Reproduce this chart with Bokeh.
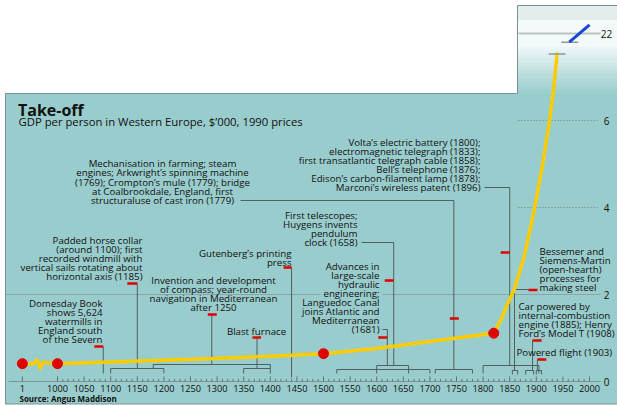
from bokeh.plotting import figure
from bokeh.models import Range1d
from bokeh.core.properties import value
from bokeh.embed import file_html
from bokeh.resources import INLINE

# ---------------- data ----------------
gdp_years = [1, 1000, 1100, 1200, 1300, 1400, 1500, 1600, 1700, 1820,
             1836, 1846, 1858, 1877, 1892, 1897, 1912, 1925, 1933, 1939]
gdp_values = [0.41, 0.41, 0.45, 0.49, 0.53, 0.58, 0.64, 0.76, 0.92, 1.11,
              1.48, 1.79, 2.09, 2.86, 3.70, 4.00, 5.00, 6.00, 6.77, 7.53]
dot_years = [1, 1000, 1500, 1820]
dot_values = [0.41, 0.41, 0.64, 1.11]
recent_years = [1962, 2000]
recent_values = [21.8, 22.2]

year_ticks = [1, 1000, 1050, 1100, 1150, 1200, 1250, 1300, 1350, 1400, 1450,
              1500, 1550, 1600, 1650, 1700, 1750, 1800, 1850, 1900, 1950, 2000]
year_tick_labels = ["1", "1000", "1050", "1100", "1150", "1200", "1250", "1300",
                    "1350", "1400", "1450", "1500", "1550", "1600", "1650", "1700",
                    "1750", "1800", "1850", "1900", "1950", "2000"]
gdp_ticks = [0, 2, 4, 6, 22]
gdp_tick_labels = ["0", "2", "4", "6", "22"]

# event years where leader lines meet the time axis
event_years = {"domesday": 1086, "collar": 1150, "compass": 1290, "blast": 1375,
               "gutenberg": 1440, "languedoc": 1620, "telescope": 1632,
               "mechanisation": 1745, "volta": 1850, "bessemer": 1859,
               "car": 1893, "flight": 1902}
# periods bracketed under the curve: (start, end)
bracket_periods = [(1100, 1200), (1180, 1400), (1350, 1400), (1525, 1700),
                   (1600, 1660), (1710, 1780), (1800, 1905), (1855, 1865),
                   (1880, 1895), (1900, 1910)]

# ---------------- layout helpers ----------------
W, H = 617, 405
REF_L, REF_R, REF_T, REF_B = 0, 617, 0, 405
PX_YR, X1000 = 0.532, 57.0
PX_UNIT, Y0 = 43.5, 381.0
BREAK_SHIFT = 14.0


def xr(px):
    return 1000 + (px - X1000) / PX_YR


def yr(py):
    return (Y0 - py) / PX_UNIT


def dxr(px):
    return px / PX_YR


def dyr(px):
    return px / PX_UNIT


def pos(year):
    return year if year >= 1000 else 1000 - 66.0 * (1000 - year) / 999.0


def disp(v):
    return v if v <= 8 else v - BREAK_SHIFT


TEAL = "#99CCCC"
GRID2 = "#8FA4A4"
LEADER = "#4F6060"
RED = "#E00000"
YELLOW = "#FFCC00"
BLUE = "#1A46D6"
TEXT = "#111111"
BORDER = "#7E9090"
FONT = "Open Sans"
ANN = "9.7px"

p = figure(width=W, height=H, output_backend="svg", toolbar_location=None,
           x_range=Range1d(xr(REF_L), xr(REF_R)),
           y_range=Range1d(yr(REF_B), yr(REF_T)),
           x_axis_location=None, y_axis_location=None, min_border=0)
p.grid.visible = False
p.outline_line_color = None
p.background_fill_color = "white"
p.border_fill_color = "white"

# teal panel
p.quad(left=xr(5), right=xr(REF_R), bottom=yr(403.5), top=yr(93),
       fill_color=TEAL, line_color=None)


# gradient in the tall extension
def mix(c1, c2, t):
    a = [int(c1[i:i + 2], 16) for i in (1, 3, 5)]
    b = [int(c2[i:i + 2], 16) for i in (1, 3, 5)]
    return "#%02x%02x%02x" % tuple(int(round(a[k] + (b[k] - a[k]) * t)) for k in range(3))


ext_l, ext_r = xr(517), xr(REF_R)
p.quad(left=ext_l, right=ext_r, top=yr(5), bottom=yr(20), fill_color="#E2EDED", line_color=None)
p.quad(left=ext_l, right=ext_r, top=yr(20), bottom=yr(46), fill_color="#F4F9F9", line_color=None)
n = 12
for i in range(n):
    top = 46 + (93 - 46) * i / n
    bot = 46 + (93 - 46) * (i + 1) / n
    p.quad(left=ext_l, right=ext_r, top=yr(top), bottom=yr(bot) - 0.01,
           fill_color=mix("#EEF7F7", TEAL, (i + 0.5) / n), line_color=None)

# panel border
p.line(x=[xr(5), xr(5), xr(517), xr(517), xr(REF_R)],
       y=[yr(403.5), yr(93), yr(93), yr(5), yr(5)], line_color=BORDER, line_width=1)
p.line(x=[xr(5), xr(REF_R)], y=[yr(403.5), yr(403.5)], line_color=BORDER, line_width=1)

# gridlines
p.segment(x0=xr(518), x1=xr(600), y0=disp(22), y1=disp(22), line_color="#B8C5C5", line_width=2)
p.segment(x0=[xr(518)] * 2, x1=[xr(597)] * 2, y0=[disp(6), disp(4)], y1=[disp(6), disp(4)],
          line_color="#6F8585", line_width=1, line_dash="1 2")
p.segment(x0=[xr(5), xr(382)], x1=[xr(320), xr(600)], y0=[disp(2)] * 2, y1=[disp(2)] * 2,
          line_color=GRID2, line_width=1)

# time axis
p.segment(x0=xr(8), x1=xr(600), y0=0, y1=0, line_color="#7F9494", line_width=1)
major_x = [pos(t) for t in year_ticks]
p.segment(x0=major_x, x1=major_x, y0=[0] * len(major_x), y1=[dyr(5)] * len(major_x),
          line_color="#5F7373", line_width=1)
minor_x = [y for y in range(1000, 2001, 10) if y % 50 != 0]
p.segment(x0=minor_x, x1=minor_x, y0=[0] * len(minor_x), y1=[dyr(2.5)] * len(minor_x),
          line_color="#5F7373", line_width=1)
p.text(x=major_x, y=[yr(388)] * len(major_x), text=year_tick_labels,
       text_align="center", text_baseline="middle", text_font=value(FONT),
       text_font_size="9.2px", text_color=TEXT)
p.text(x=[xr(606)] * len(gdp_ticks), y=[disp(v) for v in gdp_ticks], text=gdp_tick_labels,
       text_align="center", text_baseline="middle", text_font=value(FONT),
       text_font_size="10px", text_color=TEXT)

# brackets
bx, by = [], []
for (a, b), (ybar, ybot) in zip(bracket_periods,
                                [(368, 373), (364, 368), (368, 373), (369, 373), (365, 373),
                                 (369, 373), (365, 373), (370, 374), (370, 374), (370, 374)]):
    bx.append([a, a, b, b])
    by.append([yr(ybot), yr(ybar), yr(ybar), yr(ybot)])
p.multi_line(xs=bx, ys=by, line_color=LEADER, line_width=1)

# leaders
E = event_years
lx, ly = [], []


def leader(pts):
    lx.append([q[0] for q in pts])
    ly.append([yr(q[1]) for q in pts])


leader([(E["domesday"], 373), (E["domesday"], 346)])
leader([(E["collar"], 368), (E["collar"], 283)])
leader([(E["compass"], 364), (E["compass"], 314)])
leader([(E["blast"], 368), (E["blast"], 337)])
leader([(E["gutenberg"], 377), (E["gutenberg"], 267)])
leader([(E["languedoc"], 365), (E["languedoc"], 329), (xr(382), 329)])
leader([(E["telescope"], 365), (E["telescope"], 242), (xr(361), 242)])
leader([(E["mechanisation"], 369), (E["mechanisation"], 200), (xr(240), 200)])
leader([(E["volta"], 365), (E["volta"], 187), (xr(484), 187)])
leader([(E["bessemer"], 370), (E["bessemer"], 289), (xr(528), 289)])
leader([(E["car"], 370), (E["car"], 340)])
leader([(E["flight"], 370), (E["flight"], 359)])
p.multi_line(xs=lx, ys=ly, line_color=LEADER, line_width=1)

# red markers: (event, pixel offset start, pixel offset end, height)
marks = [("domesday", -9, 0, 346), ("collar", -10, 0, 283), ("compass", -4, 5, 314),
         ("blast", -4.5, 4, 337), ("gutenberg", -8, 0, 267), ("telescope", -9, 0, 280),
         ("languedoc", -9, 0, 337), ("mechanisation", -4, 5, 318), ("volta", -9, 0, 252),
         ("bessemer", 14, 23, 289.5), ("car", 0, 9, 340), ("flight", 0, 9, 359)]
p.segment(x0=[E[k] + dxr(a) for k, a, b, h in marks], x1=[E[k] + dxr(b) for k, a, b, h in marks],
          y0=[yr(h) for k, a, b, h in marks], y1=[yr(h) for k, a, b, h in marks],
          line_color=RED, line_width=2.5)

# GDP curve: break zig-zag between year 1 and 1000
x1, v1 = pos(gdp_years[0]), disp(gdp_values[0])
zig = [(0, 0), (11, 0), (14.7, 4), (18, -4.7), (20.7, 1.3)]
zx = [x1 + dxr(a) for a, b in zig] + [pos(gdp_years[1])]
zy = [v1 + dyr(b) for a, b in zig] + [disp(gdp_values[1])]
p.line(x=zx, y=zy, line_color=YELLOW, line_width=3.5, line_join="round")
p.line(x=[pos(y) for y in gdp_years[1:]], y=[disp(v) for v in gdp_values[1:]],
       line_color=YELLOW, line_width=3.5, line_join="round", line_cap="round")

# break markers and the recent segment
xe, ve = pos(gdp_years[-1]), disp(gdp_values[-1])
xb, vb = pos(recent_years[0]), disp(recent_values[0])
p.segment(x0=[xe - dxr(8.5), xb - dxr(8)], x1=[xe + dxr(8.5), xb + dxr(9)],
          y0=[ve, vb], y1=[ve, vb], line_color="#8A9A9A", line_width=1.5)
p.line(x=[pos(y) for y in recent_years], y=[disp(v) for v in recent_values],
       line_color=BLUE, line_width=3)

p.scatter(x=[pos(y) for y in dot_years], y=[disp(v) for v in dot_values], size=10,
          fill_color=RED, line_color=RED)

# ---------------- texts ----------------
p.text(x=[xr(17.5)], y=[yr(109.5)], text=["Take-off"], text_font=value(FONT),
       text_font_style="bold", text_font_size="16px", text_color=TEXT,
       text_baseline="alphabetic")
p.text(x=[xr(18)], y=[yr(120.5)], text=["GDP per person in Western Europe, $\u2019000, 1990 prices"],
       text_font=value(FONT), text_font_size="11.3px", text_color=TEXT, text_baseline="alphabetic")
p.text(x=[xr(19)], y=[yr(398)], text=["Source: Angus Maddison"], text_font=value(FONT),
       text_font_style="bold", text_font_size="8px", text_color=TEXT, text_baseline="middle")

blocks = [
    (["Mechanisation in farming; steam", "engines; Arkwright\u2019s spinning machine",
      "(1769); Crompton\u2019s mule (1779); bridge", "at Coalbrookdale, England, first",
      "structuraluse of cast iron (1779)"], 162, 163, 9.25, "center"),
    (["Volta\u2019s electric battery (1800);", "electromagnetic telegraph (1833);",
      "first transatlantic telegraph cable (1858);", "Bell\u2019s telephone (1876);",
      "Edison\u2019s carbon-filament lamp (1878);", "Marconi\u2019s wireless patent (1896)"],
     480, 142, 9, "right"),
    (["Padded horse collar", "(around 1100); first", "recorded windmill with",
      "vertical sails rotating about", "horizontal axis (1185)"], 142, 240, 9, "right"),
    (["Gutenberg\u2019s printing", "press"], 291, 253, 8.5, "right"),
    (["Invention and development", "of compass; year-round",
      "navigation in Mediterranean", "after 1250"], 213, 280, 9, "center"),
    (["Domesday Book", "shows 5,624", "watermills in", "England south", "of the Severn"],
     102, 303, 9, "right"),
    (["Blast furnace"], 256, 331, 9, "center"),
    (["First telescopes;", "Huygens invents", "pendulum", "clock (1658)"], 357, 215, 9, "right"),
    (["Advances in", "large-scale", "hydraulic", "engineering;", "Languedoc Canal",
      "joins Atlantic and", "Mediterranean", "(1681)"], 379, 266, 9, "right"),
    (["Bessemer and", "Siemens-Martin", "(open-hearth)", "processes for", "making steel"],
     539, 251, 9, "left"),
    (["Car powered by", "internal-combustion", "engine (1885); Henry",
      "Ford\u2019s Model T (1908)"], 518, 306, 9, "left"),
    (["Powered flight (1903)"], 516, 352, 9, "left"),
]
for lines, px, py, ls, al in blocks:
    p.text(x=[xr(px)] * len(lines), y=[yr(py + i * ls) for i in range(len(lines))], text=lines,
           text_align=al, text_baseline="middle", text_font=value(FONT),
           text_font_size=ANN, text_color=TEXT)

open("out.html", "w").write(file_html(p, INLINE))
